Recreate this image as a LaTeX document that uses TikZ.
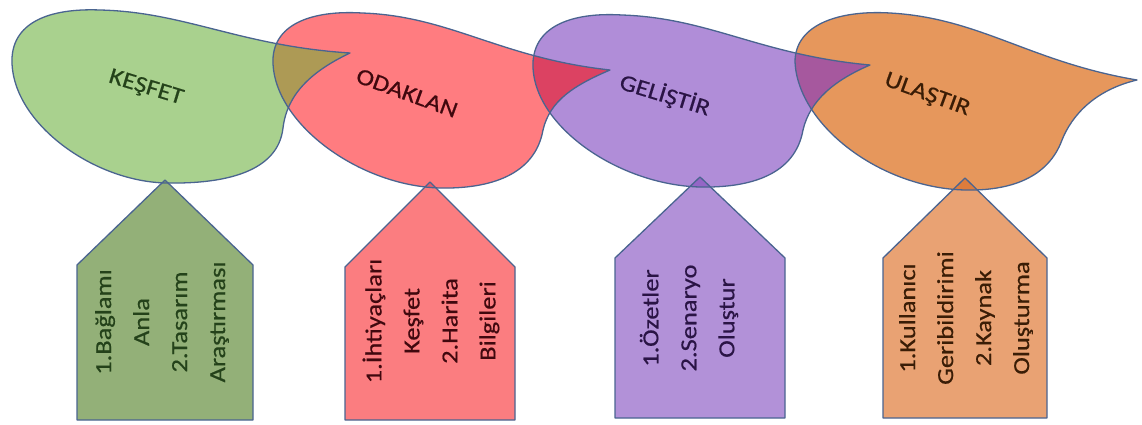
\documentclass[tikz,border=0pt]{standalone}
\usepackage{fontspec}
\setmainfont{Carlito}
\newfontfamily\labelfont[FakeStretch=1.15,FakeBold=0.5]{Carlito}

\definecolor{edge}{HTML}{4A6490}
\definecolor{gfill}{HTML}{A9D18E}
\definecolor{rfill}{HTML}{FF7C80}
\definecolor{pfill}{HTML}{B08DD8}
\definecolor{ofill}{HTML}{E6975C}
\definecolor{grmix}{HTML}{AD9A55}
\definecolor{rpmix}{HTML}{DC4262}
\definecolor{pomix}{HTML}{A6589E}
\definecolor{gbox}{HTML}{93B078}
\definecolor{rbox}{HTML}{FB7D80}
\definecolor{pbox}{HTML}{B291D8}
\definecolor{obox}{HTML}{E9A273}
\definecolor{gtip}{HTML}{7FA262}
\definecolor{rtip}{HTML}{E85A68}
\definecolor{ptip}{HTML}{9466C6}
\definecolor{otip}{HTML}{DD7C3C}
\definecolor{gtext}{HTML}{24421A}
\definecolor{rtext}{HTML}{40080E}
\definecolor{ptext}{HTML}{2A1445}
\definecolor{otext}{HTML}{3A1D06}

% leaf-shaped stage outlines
\def\blobA{(12,64) .. controls (10,22) and (50,8) .. (100,10)
  .. controls (185,12) and (240,46) .. (350,53)
  .. controls (310,72) and (287,95) .. (283,128)
  .. controls (278,172) and (225,184) .. (167,183)
  .. controls (95,182) and (15,125) .. (12,64) -- cycle}
\def\blobB{(273,64) .. controls (271,24) and (312,10) .. (362,13)
  .. controls (450,16) and (500,58) .. (610,70)
  .. controls (575,85) and (550,100) .. (543,130)
  .. controls (535,175) and (490,189) .. (440,188)
  .. controls (360,186) and (276,125) .. (273,64) -- cycle}
\def\blobC{(533,68) .. controls (531,26) and (572,12) .. (622,15)
  .. controls (710,18) and (760,55) .. (870,65)
  .. controls (835,80) and (810,100) .. (803,130)
  .. controls (795,175) and (750,188) .. (700,187)
  .. controls (620,185) and (536,128) .. (533,68) -- cycle}
\def\blobD{(795,62) .. controls (795,24) and (840,10) .. (890,13)
  .. controls (980,18) and (1030,62) .. (1137,80)
  .. controls (1095,90) and (1072,115) .. (1062,140)
  .. controls (1048,178) and (1010,191) .. (965,190)
  .. controls (880,188) and (798,125) .. (795,62) -- cycle}

% pentagon boxes below each stage
\def\boxA{(165,180) -- (253,265) -- (253,420) -- (77,420) -- (77,265) -- cycle}
\def\boxB{(430,182) -- (515,267) -- (515,420) -- (345,420) -- (345,267) -- cycle}
\def\boxC{(700,177) -- (785,258) -- (785,418) -- (615,418) -- (615,258) -- cycle}
\def\boxD{(965,178) -- (1047,258) -- (1047,418) -- (883,418) -- (883,258) -- cycle}

\begin{document}
\begin{tikzpicture}[x=1pt,y=-1pt,
  outline/.style={draw=edge, line width=1.3pt, line join=round},
  blobtext/.style={font=\labelfont\fontsize{23}{26}\selectfont, inner sep=0pt},
  boxtext/.style={font=\labelfont\fontsize{23}{38}\selectfont, align=center,
    rotate=90, inner sep=0pt}]
\useasboundingbox (0,0) rectangle (1142,425);

% fills
\fill[gfill] \blobA;
\fill[rfill] \blobB;
\fill[pfill] \blobC;
\fill[ofill] \blobD;

% overlapping tips
\begin{scope}\clip \blobB; \fill[grmix] \blobA; \end{scope}
\begin{scope}\clip \blobC; \fill[rpmix] \blobB; \end{scope}
\begin{scope}\clip \blobD; \fill[pomix] \blobC; \end{scope}

\fill[gbox] \boxA;
\fill[rbox] \boxB;
\fill[pbox] \boxC;
\fill[obox] \boxD;

\begin{scope}\clip \boxA; \fill[gtip] \blobA; \end{scope}
\begin{scope}\clip \boxB; \fill[rtip] \blobB; \end{scope}
\begin{scope}\clip \boxC; \fill[ptip] \blobC; \end{scope}
\begin{scope}\clip \boxD; \fill[otip] \blobD; \end{scope}

% outlines
\path[outline] \blobA;
\path[outline] \blobB;
\path[outline] \blobC;
\path[outline] \blobD;
\path[outline] \boxA;
\path[outline] \boxB;
\path[outline] \boxC;
\path[outline] \boxD;

% stage titles
\node[blobtext, text=gtext, rotate=-17] (kesfet) at (146,88) {KEŞFET};
\node[blobtext, text=rtext, rotate=-20] (odaklan) at (407,93) {ODAKLAN};
\node[blobtext, text=ptext, rotate=-17] (gelistir) at (665,95) {GELİŞTİR};
\node[blobtext, text=otext, rotate=-20] (ulastir) at (927,95) {ULAŞTIR};

% stage steps
\node[boxtext, text=gtext] (stepsA) at (162,322) {1.Bağlamı\\Anla\\2.Tasarım\\Araştırması};
\node[boxtext, text=rtext] (stepsB) at (431,321) {1.İhtiyaçları\\Keşfet\\2.Harita\\Bilgileri};
\node[boxtext, text=ptext] (stepsC) at (689,318) {1.Özetler\\2.Senaryo\\Oluştur};
\node[boxtext, text=otext] (stepsD) at (966,318) {1.Kullanıcı\\Geribildirimi\\2.Kaynak\\Oluşturma};
\end{tikzpicture}
\end{document}
